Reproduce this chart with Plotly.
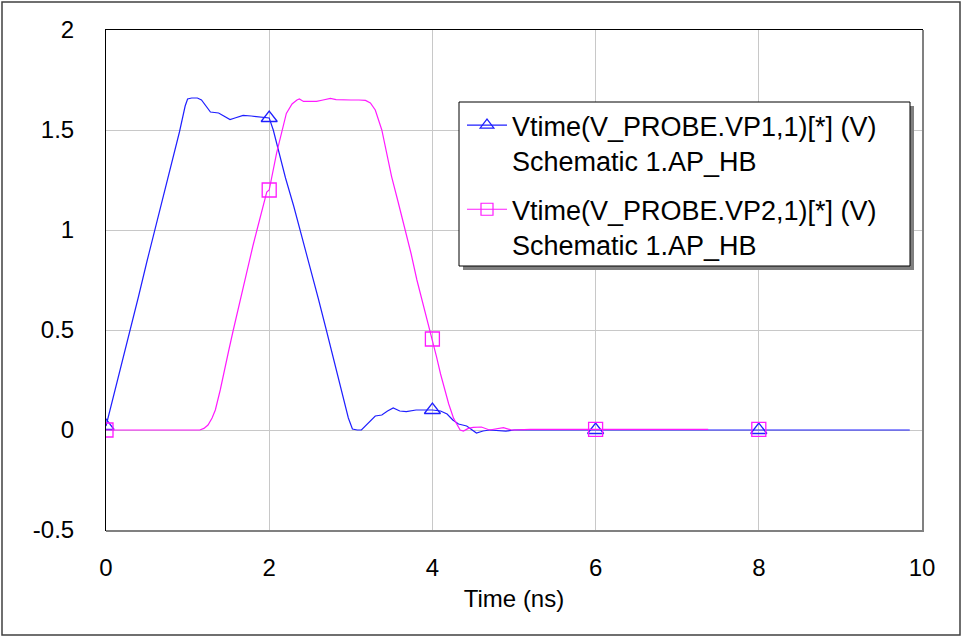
import plotly.graph_objects as go

# ---------------- data ----------------
vp1_t = [0.0, 0.1, 0.2, 0.3, 0.4, 0.5, 0.6, 0.7, 0.8, 0.9, 0.97, 1.0, 1.05, 1.12, 1.17,
         1.22, 1.28, 1.38, 1.45, 1.52, 1.58, 1.68, 1.78, 1.88, 2.0, 2.05, 2.1, 2.2, 2.3,
         2.4, 2.5, 2.6, 2.7, 2.8, 2.9, 2.97, 3.02, 3.08, 3.13, 3.2, 3.3, 3.38, 3.45, 3.52,
         3.6, 3.68, 3.8, 4.0, 4.1, 4.18, 4.25, 4.32, 4.42, 4.54, 4.62, 4.7, 4.8, 4.9, 5.0,
         5.3, 5.6, 6.0, 7.0, 8.0, 9.0, 9.85]
vp1_v = [0.02, 0.18, 0.34, 0.51, 0.67, 0.84, 1.00, 1.17, 1.33, 1.49, 1.62, 1.655, 1.66, 1.66, 1.65,
         1.62, 1.59, 1.585, 1.57, 1.552, 1.56, 1.573, 1.57, 1.565, 1.56, 1.50, 1.42, 1.26, 1.12,
         0.97, 0.82, 0.66, 0.50, 0.34, 0.18, 0.06, 0.005, 0.0, 0.0, 0.03, 0.07, 0.075, 0.095, 0.11,
         0.095, 0.092, 0.1, 0.1, 0.095, 0.08, 0.05, 0.03, 0.02, -0.015, -0.005, 0.0, -0.003, -0.006, 0.0,
         0.002, 0.0, 0.0, 0.0, 0.0, 0.0, 0.0]

vp2_t = [0.0, 1.0, 1.15, 1.2, 1.25, 1.3, 1.34, 1.4, 1.44, 1.5, 1.56, 1.68, 1.8, 1.85, 1.97, 2.0,
         2.09, 2.21, 2.28, 2.34, 2.37, 2.42, 2.5, 2.58, 2.66, 2.75, 2.82, 2.9, 3.0, 3.1, 3.18,
         3.24, 3.3, 3.38, 3.44, 3.5, 3.58, 3.66, 3.74, 3.81, 3.88, 3.95, 4.0, 4.05, 4.1, 4.15,
         4.2, 4.26, 4.3, 4.34, 4.38, 4.44, 4.5, 4.6, 4.7, 4.78, 4.87, 4.97, 5.2, 6.0, 7.0, 7.38,
         7.39, 8.0]
vp2_v = [0.0, 0.0, 0.0, 0.008, 0.025, 0.06, 0.1, 0.2, 0.28, 0.39, 0.5, 0.717, 0.92, 1.0, 1.19, 1.2,
         1.383, 1.583, 1.63, 1.65, 1.655, 1.643, 1.642, 1.643, 1.65, 1.658, 1.652, 1.65, 1.65, 1.65, 1.648,
         1.635, 1.6, 1.5, 1.38, 1.267, 1.14, 1.017, 0.88, 0.75, 0.64, 0.533, 0.455, 0.367, 0.28, 0.2,
         0.13, 0.058, 0.025, 0.0, -0.005, 0.008, 0.013, 0.015, 0.0, 0.005, 0.012, 0.0, 0.003, 0.003, 0.003, 0.003,
         None, 0.003]

marker_times = [0.0, 2.0, 4.0, 6.0, 8.0]

x_ticks = [0, 2, 4, 6, 8, 10]
x_ticktext = ["0", "2", "4", "6", "8", "10"]
y_ticks = [-0.5, 0, 0.5, 1, 1.5, 2]
y_ticktext = ["-0.5", "0", "0.5", "1", "1.5", "2"]

name1 = "Vtime(V_PROBE.VP1,1)[*] (V)<br>Schematic 1.AP_HB"
name2 = "Vtime(V_PROBE.VP2,1)[*] (V)<br>Schematic 1.AP_HB"

BLUE = "#1f1fff"
PINK = "#ff1aff"
FONT = "Arial, Liberation Sans, sans-serif"


def pick(ts, vs):
    xs, ys = [], []
    for t, v in zip(ts, vs):
        if t in marker_times and v is not None:
            xs.append(t)
            ys.append(v)
    return xs, ys


fig = go.Figure()
series = [
    (vp1_t, vp1_v, BLUE, "triangle-up-open", 14, name1, "g1"),
    (vp2_t, vp2_v, PINK, "square-open", 14, name2, "g2"),
]
for ts, vs, col, sym, msz, nm, grp in series:
    fig.add_trace(go.Scatter(x=ts, y=vs, mode="lines", showlegend=False,
                             line=dict(color=col, width=1.2), connectgaps=False,
                             hoverinfo="skip"))
    mx, my = pick(ts, vs)
    fig.add_trace(go.Scatter(x=mx, y=my, mode="markers", showlegend=False,
                             marker=dict(symbol=sym, size=msz, color=col,
                                         line=dict(color=col, width=1.3))))
for ts, vs, col, sym, msz, nm, grp in series:
    fig.add_trace(go.Scatter(x=[None], y=[None], mode="lines+markers", name=nm,
                             legendgroup=grp,
                             line=dict(color=col, width=1.2),
                             marker=dict(symbol=sym, size=12, color=col,
                                         line=dict(color=col, width=1.2))))

L, R, T, B = 106, 40, 30, 107
W, H = 962, 637
pw, ph = W - L - R, H - T - B


def px(x):
    return (x - L) / pw


def py(y):
    return (H - B - y) / ph


shapes = [
    # outer border
    dict(type="rect", xref="paper", yref="paper", x0=px(2), x1=px(960), y0=py(635), y1=py(2),
         line=dict(color="#404040", width=1.5), layer="below"),
    # frame shadow
    dict(type="line", xref="paper", yref="paper", x0=px(923), x1=px(923), y0=py(531), y1=py(30),
         line=dict(color="#808080", width=2), layer="above"),
    dict(type="line", xref="paper", yref="paper", x0=px(106), x1=px(924), y0=py(531), y1=py(531),
         line=dict(color="#808080", width=2), layer="above"),
    # legend shadow + box
    dict(type="rect", xref="paper", yref="paper", x0=px(463), x1=px(914), y0=py(270), y1=py(106),
         fillcolor="#808080", line=dict(width=0), layer="above"),
    dict(type="rect", xref="paper", yref="paper", x0=px(459), x1=px(910), y0=py(266), y1=py(102),
         fillcolor="white", line=dict(color="black", width=1), layer="above"),
]

fig.update_layout(
    width=W, height=H,
    margin=dict(l=L, r=R, t=T, b=B),
    paper_bgcolor="white", plot_bgcolor="white",
    font=dict(family=FONT, size=24, color="black"),
    showlegend=True,
    legend=dict(x=px(462), y=py(101), xanchor="left", yanchor="top",
                borderwidth=0, bgcolor="rgba(0,0,0,0)",
                font=dict(family=FONT, size=27, color="black"),
                valign="top", traceorder="grouped", tracegroupgap=11, itemwidth=40),
    shapes=shapes,
    xaxis=dict(range=[0, 10], tickvals=x_ticks, ticktext=x_ticktext,
               showgrid=True, gridcolor="#c8c8c8", gridwidth=1, zeroline=False,
               showline=True, linecolor="black", linewidth=1, mirror=True,
               ticks="", ticklabelstandoff=16,
               title=dict(text="Time (ns)", font=dict(family=FONT, size=24), standoff=10)),
    yaxis=dict(range=[-0.5, 2], tickvals=y_ticks, ticktext=y_ticktext,
               showgrid=True, gridcolor="#c8c8c8", gridwidth=1, zeroline=False,
               showline=True, linecolor="black", linewidth=1, mirror=True,
               ticks="", ticklabelstandoff=26),
)

fig.write_html("out.html", config={"displayModeBar": False},
               post_script="document.body.style.margin='0px';")
